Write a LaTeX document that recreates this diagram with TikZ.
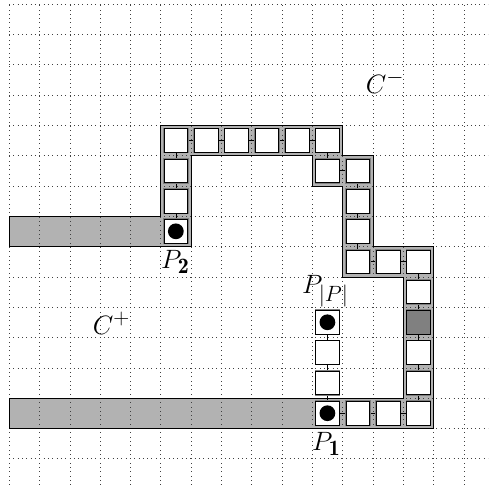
\documentclass[tikz,border=0pt]{standalone}
\usepackage{fontspec}
\begin{document}
\begin{tikzpicture}[x=1cm,y=1cm,
  gridline/.style={black!75, line width=0.4pt, dash pattern=on 0.45pt off 3.6pt},
  band/.style={fill=gray!60},
  bandline/.style={draw=black, line width=0.5pt},
  cell/.style={rectangle, draw=black, line width=0.55pt, fill=white, minimum size=0.78cm, inner sep=0pt,
    preaction={draw=gray, line width=1.9pt}},
  darkcell/.style={cell, fill=gray},
  link/.style={draw=black, line width=0.5pt},
  dot/.style={circle, fill=black, minimum size=0.52cm, inner sep=0pt},
  lbl/.style={font=\fontsize{29.5}{34}\selectfont, inner sep=0pt}]
\useasboundingbox (-0.3,-16) rectangle (15.8,0.13);
% gray band
\path[band] (0,-7) -- (5,-7) -- (5,-4) -- (11,-4) -- (11,-5) -- (12,-5) -- (12,-8) -- (14,-8) -- (14,-14) -- (0,-14) -- (0,-13) -- (13,-13) -- (13,-9) -- (11,-9) -- (11,-6) -- (10,-6) -- (10,-5) -- (6,-5) -- (6,-8) -- (0,-8) -- cycle;
% grid
\draw[gridline] (0,0) grid (15.8,-16);
% outline
\path[bandline] (0,-7) -- (5,-7) -- (5,-4) -- (11,-4) -- (11,-5) -- (12,-5) -- (12,-8) -- (14,-8) -- (14,-14) -- (0,-14) -- (0,-13) -- (13,-13) -- (13,-9) -- (11,-9) -- (11,-6) -- (10,-6) -- (10,-5) -- (6,-5) -- (6,-8) -- (0,-8) -- cycle;
% cell positions
\coordinate (k1) at (10.5,-13.5);
\coordinate (k2) at (11.5,-13.5);
\coordinate (k3) at (12.5,-13.5);
\coordinate (k4) at (13.5,-13.5);
\coordinate (k5) at (13.5,-12.5);
\coordinate (k6) at (13.5,-11.5);
\coordinate (k7) at (13.5,-10.5);
\coordinate (k8) at (13.5,-9.5);
\coordinate (k9) at (13.5,-8.5);
\coordinate (k10) at (12.5,-8.5);
\coordinate (k11) at (11.5,-8.5);
\coordinate (k12) at (11.5,-7.5);
\coordinate (k13) at (11.5,-6.5);
\coordinate (k14) at (11.5,-5.5);
\coordinate (k15) at (10.5,-5.5);
\coordinate (k16) at (10.5,-4.5);
\coordinate (k17) at (9.5,-4.5);
\coordinate (k18) at (8.5,-4.5);
\coordinate (k19) at (7.5,-4.5);
\coordinate (k20) at (6.5,-4.5);
\coordinate (k21) at (5.5,-4.5);
\coordinate (k22) at (5.5,-5.5);
\coordinate (k23) at (5.5,-6.5);
\coordinate (k24) at (5.5,-7.5);
\coordinate (m1) at (10.5,-12.5);
\coordinate (m2) at (10.5,-11.5);
\coordinate (m3) at (10.5,-10.5);
% cells (named, used as link ends)
\foreach \i in {1,...,6,8,9,...,24} {\node[cell] (c\i) at (k\i) {};}
\node[darkcell] (c7) at (k7) {};
\foreach \i in {1,2,3} {\node[cell] (q\i) at (m\i) {};}
% links
\foreach \i [evaluate=\i as \j using int(\i+1)] in {1,...,23} {\path[link] (c\i) -- (c\j);}
\path[link] (c1) -- (q1);
\path[link] (q1) -- (q2);
\path[link] (q2) -- (q3);
% redraw cells over link ends
\foreach \i in {1,...,6,8,9,...,24} {\node[cell] at (k\i) {};}
\node[darkcell] at (k7) {};
\foreach \i in {1,2,3} {\node[cell] at (m\i) {};}
% dots
\node[dot] (d1) at (c1) {};
\node[dot] (d2) at (c24) {};
\node[dot] (d3) at (q3) {};
% labels
\node[lbl] (lcm) at (12.4,-2.57) {$C^-$};
\node[lbl] (lcp) at (3.37,-10.53) {$C^+$};
\node[lbl] (lp2) at (5.48,-8.5) {$P_{\mathbf{2}}$};
\node[lbl] (lpp) at (10.43,-9.47) {$P_{|P|}$};
\node[lbl] (lp1) at (10.46,-14.52) {$P_{\mathbf{1}}$};
\end{tikzpicture}
\end{document}
